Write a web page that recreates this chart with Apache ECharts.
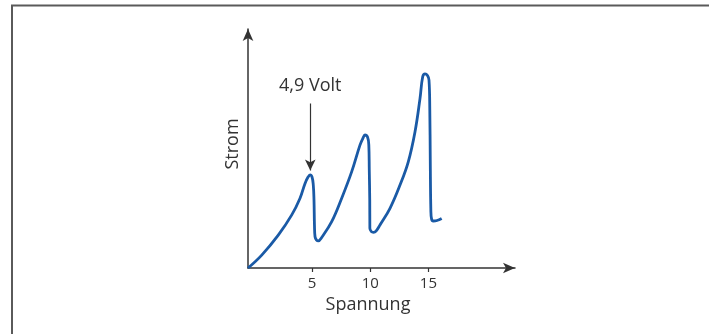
<!DOCTYPE html>
<html>
<head>
<meta charset="utf-8">
<script src="https://cdn.jsdelivr.net/npm/echarts@6/dist/echarts.min.js"></script>
<style>
  html, body { margin: 0; padding: 0; background: #fff; }
  #canvas { width: 709px; height: 334px; }
</style>
</head>
<body>
<div id="canvas"></div>
<script>
// Franck-Hertz Kurve: Strom über Spannung
var voltage = [-0.5, 0.68, 2.10, 3.26, 3.97, 4.40, 4.66, 4.83, 5.00, 5.11, 5.17, 5.21, 5.26, 5.39, 5.54, 5.83,
    6.69, 7.55, 8.41, 9.12, 9.38, 9.55, 9.77, 9.88, 9.92, 9.96, 9.97, 10.10, 10.28, 10.50,
    10.84, 11.70, 12.56, 13.27, 13.85, 14.28, 14.51, 14.71, 14.92, 15.05, 15.12, 15.16, 15.21, 15.27, 15.42, 15.74, 16.14];
var current = [0, 5.5, 14.0, 22.6, 29.7, 36.0, 38.7, 39.6, 38.7, 35.3, 28.9, 18.3, 13.3, 11.9, 11.5, 13.0,
    19.7, 29.7, 41.0, 52.3, 55.3, 56.6, 55.7, 52.3, 41.7, 28.9, 16.9, 15.5, 15.2, 15.7,
    18.3, 25.4, 35.3, 45.2, 58.0, 72.2, 81.4, 82.6, 81.9, 80.0, 67.2, 46.0, 24.7, 20.9, 20.0, 20.2, 21.1];
var tickValues = [5, 10, 15];
var peakText = '4,9 Volt';
var arrowFrom = [4.85, 70];
var arrowTo = [4.85, 41.5];

var points = voltage.map(function (v, i) { return [v, current[i]]; });

var myChart = echarts.init(document.getElementById('canvas'));
var textColor = '#333';
var option = {
    animation: false,
    grid: {
        left: 248,
        right: 194,
        top: 29,
        bottom: 66
    },
    graphic: [{
        type: 'rect',
        shape: { x: 12, y: 5.5, width: 800, height: 400 },
        style: { fill: 'none', stroke: '#5a5a5a', lineWidth: 2 },
        silent: true
    }],
    xAxis: {
        type: 'value',
        min: -0.5,
        max: 22.44,
        name: 'Spannung',
        nameLocation: 'middle',
        nameGap: 27,
        nameTextStyle: {
            fontFamily: 'Open Sans',
            fontSize: 18,
            color: textColor,
            padding: [0, 27, 0, 0]
        },
        splitLine: { show: false },
        axisLine: {
            symbol: ['none', 'arrow'],
            symbolSize: [8, 12],
            lineStyle: { color: textColor, width: 1.5 }
        },
        axisTick: {
            customValues: tickValues,
            length: 4,
            lineStyle: { color: textColor, width: 1.2 }
        },
        axisLabel: {
            customValues: tickValues,
            margin: 8,
            fontFamily: 'Open Sans',
            fontSize: 15,
            color: textColor
        }
    },
    yAxis: {
        type: 'value',
        min: 0,
        max: 101.7,
        name: 'Strom',
        nameLocation: 'middle',
        nameGap: 6,
        nameTextStyle: {
            fontFamily: 'Open Sans',
            fontSize: 18,
            color: textColor,
            padding: [0, 0, 0, 9]
        },
        splitLine: { show: false },
        axisTick: { show: false },
        axisLabel: { show: false },
        axisLine: {
            show: true,
            onZero: false,
            symbol: ['none', 'arrow'],
            symbolSize: [8, 12],
            lineStyle: { color: textColor, width: 1.5 }
        }
    },
    series: [{
        type: 'line',
        data: points,
        smooth: 0.4,
        symbol: 'none',
        lineStyle: { color: '#1a5aa6', width: 2.8 },
        markLine: {
            silent: true,
            symbol: ['none', 'arrow'],
            symbolSize: [8, 11],
            lineStyle: { color: textColor, type: 'solid', width: 1.2 },
            label: {
                show: true,
                position: 'start',
                distance: 9,
                formatter: peakText,
                fontFamily: 'Open Sans',
                fontSize: 18,
                color: textColor
            },
            data: [[{ coord: arrowFrom }, { coord: arrowTo }]]
        }
    }]
};
myChart.setOption(option);
</script>
</body>
</html>
